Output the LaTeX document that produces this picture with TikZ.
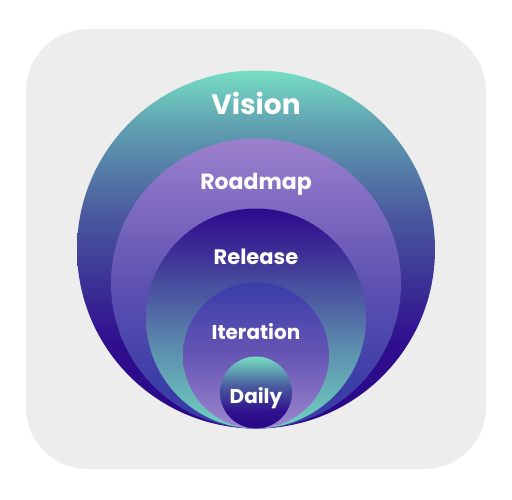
\documentclass[tikz,border=0pt]{standalone}
\usepackage{fontspec}
\setmainfont{Poppins}
\definecolor{bggray}{HTML}{EDEDED}
\definecolor{c2A0688}{HTML}{2A0688}
\definecolor{c2F0E8E}{HTML}{2F0E8E}
\definecolor{c4A5A9E}{HTML}{4A5A9E}
\definecolor{c5F9EB0}{HTML}{5F9EB0}
\definecolor{c76DEC4}{HTML}{76DEC4}
\definecolor{c3A3BA6}{HTML}{3A3BA6}
\definecolor{c3C3DA7}{HTML}{3C3DA7}
\definecolor{c5E52B2}{HTML}{5E52B2}
\definecolor{c9C80CD}{HTML}{9C80CD}
\definecolor{c70D3C2}{HTML}{70D3C2}
\definecolor{c5A86AC}{HTML}{5A86AC}
\definecolor{c3E2E96}{HTML}{3E2E96}
\definecolor{c2C0A8C}{HTML}{2C0A8C}
\definecolor{c9C86CD}{HTML}{9C86CD}
\definecolor{c6656B4}{HTML}{6656B4}
\definecolor{c3A3DA8}{HTML}{3A3DA8}
\definecolor{c30128E}{HTML}{30128E}
\definecolor{c4A5E9E}{HTML}{4A5E9E}
\pgfdeclareverticalshading{visionshade}{100bp}{%
  color(0bp)=(c2A0688); color(25bp)=(c2A0688); color(37bp)=(c2F0E8E);
  color(55bp)=(c4A5A9E); color(67bp)=(c5F9EB0); color(75bp)=(c76DEC4); color(100bp)=(c76DEC4)}
\pgfdeclareverticalshading{roadshade}{100bp}{%
  color(0bp)=(c3A3BA6); color(25bp)=(c3A3BA6); color(33bp)=(c3C3DA7);
  color(50bp)=(c5E52B2); color(75bp)=(c9C80CD); color(100bp)=(c9C80CD)}
\pgfdeclareverticalshading{releaseshade}{100bp}{%
  color(0bp)=(c70D3C2); color(25bp)=(c70D3C2); color(45bp)=(c5A86AC);
  color(65bp)=(c3E2E96); color(75bp)=(c2C0A8C); color(100bp)=(c2C0A8C)}
\pgfdeclareverticalshading{iterationshade}{100bp}{%
  color(0bp)=(c9C86CD); color(25bp)=(c9C86CD); color(50bp)=(c6656B4);
  color(75bp)=(c3A3DA8); color(100bp)=(c3A3DA8)}
\pgfdeclareverticalshading{dailyshade}{100bp}{%
  color(0bp)=(c2A0688); color(25bp)=(c2A0688); color(37bp)=(c30128E);
  color(55bp)=(c4A5E9E); color(75bp)=(c76DEC4); color(100bp)=(c76DEC4)}
\tikzset{
  ring/.style={circle, inner sep=0pt, minimum size=#1},
  lbl/.style={text=white, font=\bfseries\fontsize{#1}{#1}\selectfont, inner sep=0pt, anchor=base}
}
\begin{document}
\begin{tikzpicture}[x=1pt,y=-1pt]
\useasboundingbox (0,0) rectangle (512,499);
\fill[white] (0,0) rectangle (512,499);
\fill[bggray, rounded corners=62pt] (26,29) rectangle (486,469);
\node[ring=358pt, shading=visionshade] (vision) at (256,249.5) {};
\node[ring=290pt, shading=roadshade] (roadmap) at (256,283.5) {};
\node[ring=220pt, shading=releaseshade] (release) at (256,318.5) {};
\node[ring=146pt, shading=iterationshade] (iteration) at (256,355.5) {};
\node[ring=72pt, shading=dailyshade] (daily) at (256,392.5) {};
\node[lbl=28] (tvision) at (256,114) {Vision};
\node[lbl=22] (troad) at (256,189) {Roadmap};
\node[lbl=21] (trel) at (256,264) {Release};
\node[lbl=20] (titer) at (256,339) {Iteration};
\node[lbl=20] (tdaily) at (256,403) {Daily};
\end{tikzpicture}
\end{document}
